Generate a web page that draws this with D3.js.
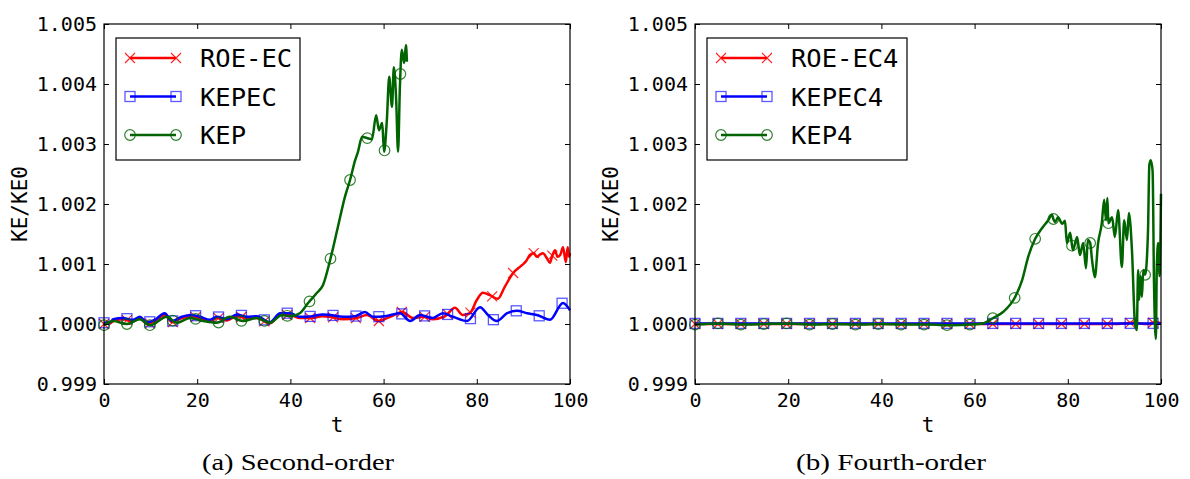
<!DOCTYPE html>
<html>
<head>
<meta charset="utf-8">
<script src="https://cdn.jsdelivr.net/npm/d3@7"></script>
<style>
  html, body { margin: 0; padding: 0; background: #fff; }
  svg { display: block; }
</style>
</head>
<body>
<svg id="chart" width="1190" height="479"></svg>
<script>
// ---------------- DATA ----------------
const xTicks = [0, 20, 40, 60, 80, 100];
const yTicks = [0.999, 1.000, 1.001, 1.002, 1.003, 1.004, 1.005];
const yTickLabels = ["0.999", "1.000", "1.001", "1.002", "1.003", "1.004", "1.005"];
const xLabel = "t";
const yLabel = "KE/KE0";
const captions = ["(a) Second-order", "(b) Fourth-order"];
const leftNames = ["ROE-EC", "KEPEC", "KEP"];
const rightNames = ["ROE-EC4", "KEPEC4", "KEP4"];

// [t, KE/KE0]
const leftRoeEC = [[0,1.0],[1.3,1.00001],[2,1.00005],[4,1.00008],[6.2,1.00004],[7.7,1.0001],[9.2,1.0],[10.9,1.00005],[13,1.00015],[14.6,1.00003],[16.7,1.0001],[18.5,1.00012],[20.6,1.0001],[22.7,1.00004],[24.2,1.0001],[26.4,1.00006],[28.5,1.00013],[30.7,1.0001],[32.8,1.0001],[35.6,1.00001],[37.8,1.00015],[40,1.00015],[42,1.0001],[44.8,1.0001],[46.8,1.00013],[48.5,1.00012],[51.3,1.00008],[54.2,1.0001],[56.4,1.00015],[58.9,1.00005],[61.4,1.00012],[64,1.0002],[66.3,1.0001],[68.5,1.00012],[70.6,1.00008],[73.2,1.00013],[75.3,1.00027],[77,1.00015],[78.5,1.00018],[80,1.0004],[81.3,1.00052],[82.8,1.00048],[84.5,1.00042],[86,1.00062],[87.8,1.00085],[89.7,1.00098],[90.6,1.00105],[91.4,1.00115],[92.2,1.00118],[92.9,1.00112],[93.6,1.00116],[94.2,1.00118],[95,1.0011],[95.7,1.00102],[96.2,1.00114],[96.8,1.00123],[97.3,1.00112],[97.9,1.00115],[98.5,1.00128],[99.1,1.00103],[99.5,1.00128],[99.8,1.00112],[100,1.00118]];
const leftKepec = [[0,1.00002],[1.3,1.00003],[2,1.00008],[4,1.0001],[6.2,1.00007],[7.7,1.00012],[9.2,1.00003],[10.9,1.00007],[13,1.00018],[14.6,1.00005],[16.7,1.00012],[18.5,1.00015],[20.6,1.00012],[22.7,1.00007],[24.2,1.00012],[26.4,1.00008],[28.5,1.00016],[30.7,1.00012],[32.8,1.00013],[35.6,1.00003],[37.8,1.00018],[40,1.00018],[42,1.00012],[44.8,1.00013],[46.8,1.00016],[48.5,1.00015],[51.3,1.00012],[53.9,1.00013],[56,1.0002],[57.7,1.00012],[60.3,1.00013],[63.5,1.00018],[65.7,1.00005],[67.8,1.00015],[70.6,1.0001],[72.7,1.00018],[74.9,1.00012],[77.9,1.00005],[80.7,1.00028],[82.4,1.00015],[84.3,1.00005],[86.5,1.00018],[88.6,1.00022],[90.8,1.00018],[92.9,1.00015],[95.7,1.00007],[98.5,1.00035],[100,1.00023]];
const leftKep = [[0,0.99998],[2,1.00005],[4.9,1.0],[7.7,1.00008],[9.9,0.99998],[13.5,1.00012],[15.6,1.00002],[18.5,1.0001],[21.3,1.00005],[24.2,1.00002],[27,1.00012],[29.8,1.00005],[32.8,1.0001],[35.6,1.00002],[38.2,1.00015],[40,1.00013],[42,1.00018],[43.8,1.00035],[45.7,1.00052],[47,1.00065],[48.7,1.00112],[50.2,1.00162],[51.7,1.00212],[52.8,1.0024],[53.9,1.00273],[54.5,1.00287],[55.4,1.00312],[56.4,1.0031],[57.5,1.00308],[58.4,1.00348],[59,1.00323],[59.7,1.00335],[60.1,1.00287],[60.7,1.0034],[61.2,1.00412],[61.8,1.00362],[62.2,1.00428],[62.7,1.00373],[63.1,1.00287],[63.5,1.00395],[63.9,1.00457],[64.4,1.00435],[64.8,1.00465],[65,1.00437]];

const rightRoeEC4 = [[0,1.0],[10,1.0],[20,1.0],[30,1.0],[40,1.0],[50,1.0],[60,1.0],[70,1.0],[80,1.0],[90,1.0],[94,1.00002],[97,1.0],[99,1.00003],[100,1.00001]];
const rightKepec4 = [[0,1.00001],[10,1.00001],[20,1.00001],[30,1.00001],[40,1.00001],[50,1.00001],[60,1.00001],[70,1.00001],[80,1.00001],[90,1.00001],[100,1.00001]];
const rightKep4 = [[0,0.99999],[5,1.00001],[10,0.99999],[15,1.0],[20,1.00001],[25,0.99999],[30,1.0],[35,0.99999],[40,1.0],[45,0.99999],[50,0.99999],[55,0.99998],[59,0.99999],[61.8,1.00001],[64,1.0001],[66.1,1.0002],[68.7,1.00045],[70.2,1.00073],[71.5,1.00112],[73,1.00142],[74.5,1.0016],[75.8,1.00173],[76.6,1.00182],[76.9,1.00175],[77.3,1.0017],[77.9,1.00178],[78.8,1.00167],[79.4,1.00172],[79.8,1.00135],[80.5,1.00152],[81.1,1.00123],[82,1.00145],[82.6,1.00115],[83.3,1.00135],[83.9,1.00093],[84.3,1.0014],[84.8,1.00135],[85.2,1.00107],[85.8,1.00078],[86.5,1.00135],[87.3,1.00168],[87.8,1.00207],[88.2,1.00173],[88.5,1.0021],[88.7,1.00168],[89.5,1.00178],[90.1,1.00145],[90.8,1.0019],[91.6,1.00095],[92.1,1.00173],[92.7,1.0014],[93.1,1.00185],[93.8,1.00118],[94.4,1.00002],[94.8,0.9999],[95.1,1.0009],[95.3,1.0004],[95.6,1.0008],[95.9,1.00045],[96.2,1.0009],[96.6,1.00082],[97.2,1.00152],[97.5,1.00265],[97.8,1.00273],[98.2,1.00255],[98.5,1.00068],[98.9,0.99975],[99.1,1.00095],[99.4,1.00135],[99.7,1.0008],[100,1.00217]];

// marker times (markers sit on the drawn line at these t)
const markT = [0,4.92,9.83,14.75,19.66,24.58,29.49,34.41,39.32,44.24,49.15,54.07,58.98,63.9,68.81,73.73,78.64,83.56,88.47,93.39,98.3];
const markLeftRoe = [0,4.92,9.83,14.75,19.66,24.58,29.49,34.41,39.32,44.24,49.15,54.07,58.98,63.9,68.81,73.73,78.64,83.3,87.8,92.2,96.2];
const markLeftKep = [0,4.92,9.83,14.75,19.66,24.58,29.49,34.41,39.32,44.1,48.6,52.8,56.5,60.2,63.6];
const markRightKep = [0,4.92,9.83,14.75,19.66,24.58,29.49,34.41,39.32,44.24,49.15,54.07,58.98,63.9,68.6,73,76.9,80.9,84.8,88.7,96.6];

// ---------------- DRAW ----------------
const svg = d3.select("#chart");
const MONO = "'DejaVu Sans Mono', monospace";
const colors = { red: "#ff0000", blue: "#0000ff", green: "#006400" };

function pointAtX(pathNode, px) {
  let lo = 0, hi = pathNode.getTotalLength();
  for (let i = 0; i < 40; i++) {
    const mid = (lo + hi) / 2;
    if (pathNode.getPointAtLength(mid).x < px) lo = mid; else hi = mid;
  }
  return pathNode.getPointAtLength((lo + hi) / 2);
}

function drawMarker(g, type, x, y, color) {
  if (type === "x") {
    const s = 5;
    g.append("path").attr("d", `M${x-s},${y-s}L${x+s},${y+s}M${x-s},${y+s}L${x+s},${y-s}`)
      .attr("stroke", color).attr("stroke-width", 1.2).attr("fill", "none").attr("opacity", 0.85);
  } else if (type === "s") {
    g.append("rect").attr("x", x-5).attr("y", y-5).attr("width", 10).attr("height", 10)
      .attr("stroke", color).attr("stroke-width", 1.3).attr("fill", "none").attr("opacity", 0.65);
  } else {
    g.append("circle").attr("cx", x).attr("cy", y).attr("r", 5.3)
      .attr("stroke", color).attr("stroke-width", 1.2).attr("fill", "none").attr("opacity", 0.8);
  }
}

function panel(cfg, idx) {
  const { left, right, top, bottom } = cfg;
  const x = d3.scaleLinear().domain([0, 100]).range([left, right]);
  const y = d3.scaleLinear().domain([0.999, 1.005]).range([bottom, top]);
  const g = svg.append("g");
  const clipId = "clip" + idx;
  svg.append("clipPath").attr("id", clipId).append("rect")
    .attr("x", left - 6).attr("y", top).attr("width", right - left + 12).attr("height", bottom - top);

  const line = d3.line().x(d => x(d[0])).y(d => y(d[1])).curve(d3.curveMonotoneX);
  const plot = g.append("g").attr("clip-path", `url(#${clipId})`);
  cfg.series.forEach(s => {
    const p = plot.append("path").datum(s.data).attr("d", line)
      .attr("fill", "none").attr("stroke", s.color).attr("stroke-width", 2.5)
      .attr("stroke-linejoin", "round");
    const node = p.node();
    s.marks.forEach(t => {
      const pt = pointAtX(node, x(t));
      drawMarker(plot, s.marker, pt.x, pt.y, s.color);
    });
  });

  // frame
  g.append("rect").attr("x", left).attr("y", top).attr("width", right - left).attr("height", bottom - top)
    .attr("fill", "none").attr("stroke", "#000").attr("stroke-width", 1.2);

  // axes (ticks inward on all four sides)
  const axB = d3.axisBottom(x).tickValues(xTicks).tickSize(-5).tickFormat(d => d).tickPadding(9);
  const axT = d3.axisTop(x).tickValues(xTicks).tickSize(-5).tickFormat("");
  const axL = d3.axisLeft(y).tickValues(yTicks).tickSize(-5).tickFormat((d, i) => yTickLabels[i]).tickPadding(7);
  const axR = d3.axisRight(y).tickValues(yTicks).tickSize(-5).tickFormat("");
  const gb = g.append("g").attr("transform", `translate(0,${bottom})`).call(axB);
  const gt = g.append("g").attr("transform", `translate(0,${top})`).call(axT);
  const gl = g.append("g").attr("transform", `translate(${left},0)`).call(axL);
  const gr = g.append("g").attr("transform", `translate(${right},0)`).call(axR);
  [gb, gt, gl, gr].forEach(a => {
    a.select(".domain").remove();
    a.selectAll(".tick line").attr("stroke", "#000").attr("stroke-width", 1);
    a.selectAll("text").attr("font-family", MONO).attr("font-size", 20).attr("fill", "#000");
  });

  // axis labels
  g.append("text").attr("x", (left + right) / 2).attr("y", 432).attr("text-anchor", "middle")
    .attr("font-family", MONO).attr("font-size", 21).text(xLabel);
  g.append("text").attr("transform", `translate(${left - 77},${(top + bottom) / 2}) rotate(-90)`)
    .attr("text-anchor", "middle").attr("font-family", MONO).attr("font-size", 21).text(yLabel);
  // caption
  g.append("text").attr("x", cfg.captionX).attr("y", 470).attr("text-anchor", "middle")
    .attr("font-family", "'Liberation Serif', 'DejaVu Serif', serif").attr("font-size", 23.5)
    .attr("textLength", cfg.captionW).attr("lengthAdjust", "spacingAndGlyphs")
    .text(captions[idx]);

  // legend
  const L = cfg.legend;
  g.append("rect").attr("x", L.x).attr("y", L.y).attr("width", L.w).attr("height", L.h)
    .attr("fill", "#fff").attr("stroke", "#000").attr("stroke-width", 1.2);
  cfg.series.forEach((s, i) => {
    const yy = L.y + 20 + i * 38.5;
    const x0 = L.x + 14, x1 = L.x + 60;
    g.append("line").attr("x1", x0).attr("x2", x1).attr("y1", yy).attr("y2", yy)
      .attr("stroke", s.color).attr("stroke-width", 2.5);
    drawMarker(g, s.marker, x0, yy, s.color);
    drawMarker(g, s.marker, x1, yy, s.color);
    g.append("text").attr("x", L.x + 84).attr("y", yy).attr("dy", "0.36em")
      .attr("font-family", MONO).attr("font-size", 25.5).attr("fill", "#000").text(s.name);
  });
}

panel({
  left: 104, right: 570, top: 24, bottom: 384, captionX: 298, captionW: 192,
  legend: { x: 116, y: 38, w: 184, h: 122 },
  series: [
    { name: leftNames[0], data: leftRoeEC, color: colors.red, marker: "x", marks: markLeftRoe },
    { name: leftNames[1], data: leftKepec, color: colors.blue, marker: "s", marks: markT },
    { name: leftNames[2], data: leftKep, color: colors.green, marker: "o", marks: markLeftKep }
  ]
}, 0);

panel({
  left: 695, right: 1161, top: 24, bottom: 384, captionX: 891, captionW: 190,
  legend: { x: 707, y: 38, w: 200, h: 122 },
  series: [
    { name: rightNames[0], data: rightRoeEC4, color: colors.red, marker: "x", marks: markT },
    { name: rightNames[1], data: rightKepec4, color: colors.blue, marker: "s", marks: markT },
    { name: rightNames[2], data: rightKep4, color: colors.green, marker: "o", marks: markRightKep }
  ]
}, 1);
</script>
</body>
</html>
